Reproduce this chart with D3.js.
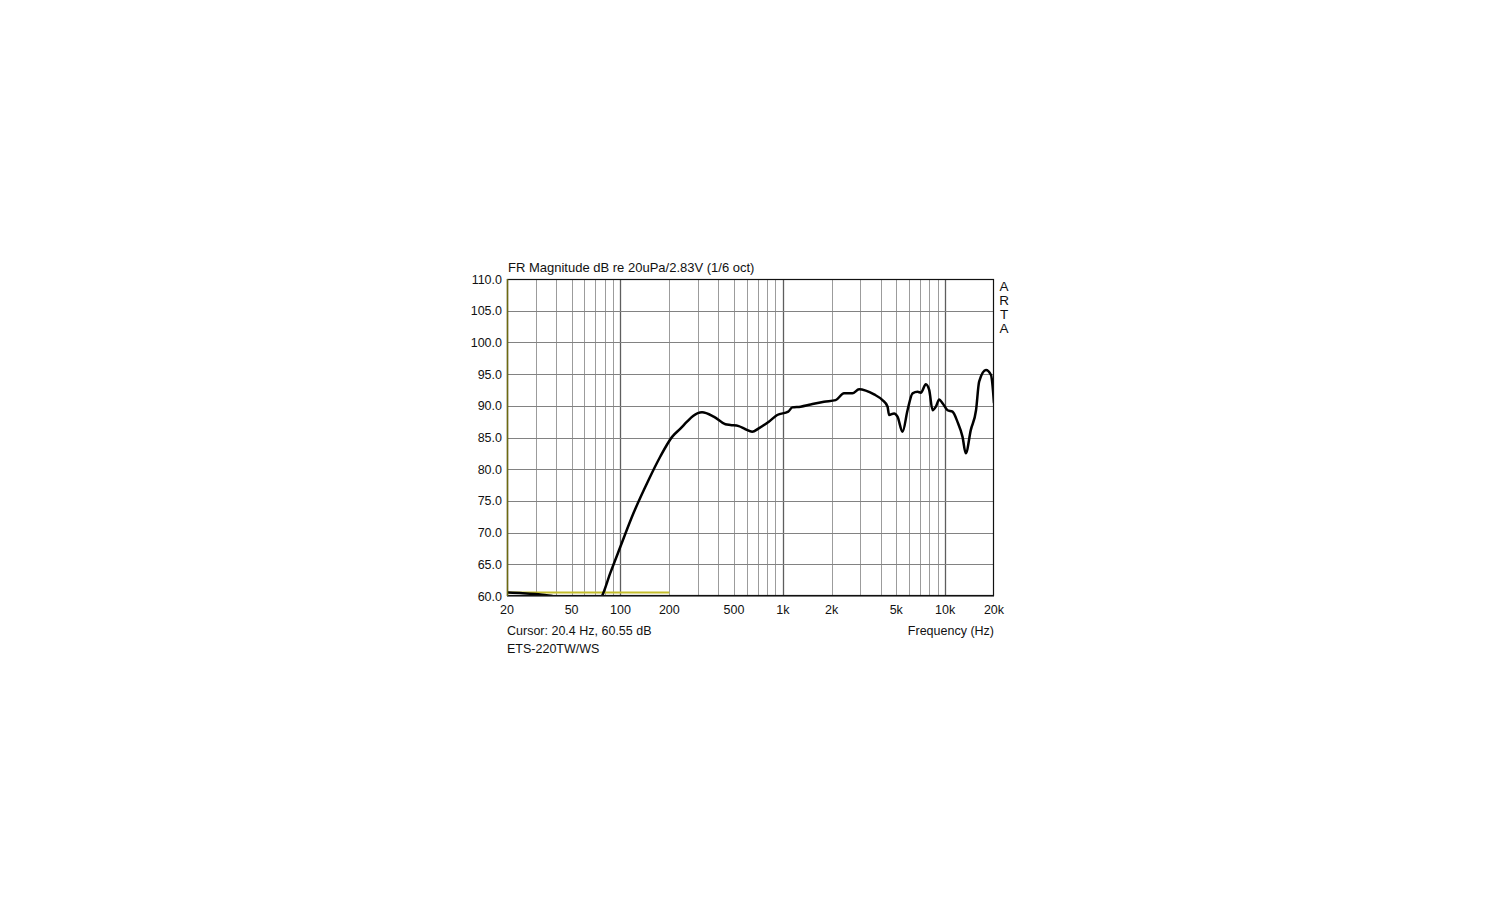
<!DOCTYPE html>
<html>
<head>
<meta charset="utf-8">
<script src="https://cdn.jsdelivr.net/npm/d3@7"></script>
<style>
  body { margin: 0; background: #fff; }
  svg text { font-family: "Liberation Sans", Arial, sans-serif; fill: #111; }
</style>
</head>
<body>
<div class="canvas"></div>
<script>
// chart data
const freqs = [20, 25, 30, 35, 38, 42, 70, 77, 86.5, 100, 120, 149, 176, 208, 234, 257, 280, 318, 375,
  443, 476, 535, 589, 648, 711, 820, 924, 1080, 1144, 1287, 1484, 1793, 2117, 2382, 2685, 2949, 3244,
  3650, 4111, 4416, 4516, 4848, 5088, 5464, 5867, 6300, 6765, 7088, 7607, 7975, 8369, 8770, 9189,
  9640, 10350, 11100, 11900, 12800, 13400, 14400, 15500, 16200, 17850, 19170, 20000];
const levels = [60.55, 60.45, 60.3, 60.1, 60.0, 59.0, 58.6, 60.0, 63.6, 67.8, 73.0, 78.3, 82.0, 85.1, 86.4, 87.5, 88.4, 88.97, 88.3,
  87.1, 86.97, 86.8, 86.3, 85.9, 86.45, 87.5, 88.55, 89.07, 89.75, 89.86, 90.2, 90.65, 90.9, 91.97, 91.97, 92.6, 92.4,
  91.8, 90.9, 89.9, 88.55, 88.8, 88.3, 85.9, 89.3, 91.97, 92.2, 92.07, 93.4, 92.5, 89.3, 89.86, 91.0,
  90.4, 89.3, 89.07, 87.5, 85.1, 82.5, 86.2, 89.3, 93.8, 95.65, 94.86, 90.4];

const yTicks = [60, 65, 70, 75, 80, 85, 90, 95, 100, 105, 110];
const xTickLabels = [[20, '20'], [50, '50'], [100, '100'], [200, '200'], [500, '500'],
  [1000, '1k'], [2000, '2k'], [5000, '5k'], [10000, '10k'], [20000, '20k']];
const xGrid = [30, 40, 50, 60, 70, 80, 90, 100, 200, 300, 400, 500, 600, 700, 800, 900,
  1000, 2000, 3000, 4000, 5000, 6000, 7000, 8000, 9000, 10000];
const decades = [100, 1000, 10000];

// cursor readout
const cursorFreq = 20.4;
const cursorLevel = 60.55;
const cursorEnd = 200;

// plot box
const box = { left: 507, top: 279, right: 994, bottom: 596 };

const svg = d3.select('.canvas')
  .append('svg')
  .attr('width', 1500)
  .attr('height', 900);

const x = d3.scaleLog()
  .domain([20, 20000])
  .range([box.left, box.right]);

const y = d3.scaleLinear()
  .domain([60, 110])
  .range([box.bottom, box.top]);

// grid
svg.append('g')
  .selectAll('line')
  .data(xGrid)
  .enter()
  .append('line')
  .attr('x1', d => Math.round(x(d)) + 0.5)
  .attr('x2', d => Math.round(x(d)) + 0.5)
  .attr('y1', box.top)
  .attr('y2', box.bottom)
  .attr('stroke', d => decades.includes(d) ? '#5e5e5e' : '#9c9c9c')
  .attr('stroke-width', d => decades.includes(d) ? 1.3 : 1);

svg.append('g')
  .selectAll('line')
  .data(yTicks)
  .enter()
  .append('line')
  .attr('x1', box.left)
  .attr('x2', box.right)
  .attr('y1', d => Math.round(y(d)) + 0.5)
  .attr('y2', d => Math.round(y(d)) + 0.5)
  .attr('stroke', '#828282')
  .attr('stroke-width', 1);

// clip for the curve
svg.append('clipPath')
  .attr('id', 'plotclip')
  .append('rect')
  .attr('x', box.left)
  .attr('y', box.top)
  .attr('width', box.right - box.left)
  .attr('height', box.bottom - box.top);

// cursor lines
svg.append('line')
  .attr('x1', x(cursorFreq))
  .attr('x2', x(cursorEnd))
  .attr('y1', y(cursorLevel))
  .attr('y2', y(cursorLevel))
  .attr('stroke', '#c4bd2c')
  .attr('stroke-width', 2);

// response curve
const line = d3.line()
  .x((d, i) => x(freqs[i]))
  .y(d => y(d))
  .curve(d3.curveMonotoneX);

svg.append('path')
  .datum(levels)
  .attr('clip-path', 'url(#plotclip)')
  .attr('fill', 'none')
  .attr('stroke', '#000')
  .attr('stroke-width', 2.5)
  .attr('stroke-linejoin', 'round')
  .attr('d', line);

// frame
svg.append('rect')
  .attr('x', box.left + 0.5)
  .attr('y', box.top + 0.5)
  .attr('width', box.right - box.left - 1)
  .attr('height', box.bottom - box.top - 1)
  .attr('fill', 'none')
  .attr('stroke', '#111')
  .attr('stroke-width', 1.2);

svg.append('line')
  .attr('x1', box.left + 0.5)
  .attr('x2', box.left + 0.5)
  .attr('y1', box.top)
  .attr('y2', box.bottom)
  .attr('stroke', '#6d6a10')
  .attr('stroke-width', 1.5);

// y labels
svg.append('g')
  .selectAll('text')
  .data(yTicks)
  .enter()
  .append('text')
  .attr('x', box.left - 5)
  .attr('y', d => y(d) + 4.5)
  .attr('text-anchor', 'end')
  .attr('font-size', 12.5)
  .text(d => d.toFixed(1));

// x labels
svg.append('g')
  .selectAll('text')
  .data(xTickLabels)
  .enter()
  .append('text')
  .attr('x', d => x(d[0]))
  .attr('y', box.bottom + 18)
  .attr('text-anchor', 'middle')
  .attr('font-size', 12.5)
  .text(d => d[1]);

// titles and notes
svg.append('text')
  .attr('x', box.left + 1)
  .attr('y', box.top - 7)
  .attr('font-size', 13)
  .text('FR Magnitude dB re 20uPa/2.83V (1/6 oct)');

svg.append('text')
  .attr('x', box.left)
  .attr('y', box.bottom + 39)
  .attr('font-size', 12.5)
  .text(`Cursor: ${cursorFreq} Hz, ${cursorLevel} dB`);

svg.append('text')
  .attr('x', box.left)
  .attr('y', box.bottom + 57)
  .attr('font-size', 12.5)
  .text('ETS-220TW/WS');

svg.append('text')
  .attr('x', box.right)
  .attr('y', box.bottom + 39)
  .attr('text-anchor', 'end')
  .attr('font-size', 12.5)
  .text('Frequency (Hz)');

svg.append('g')
  .selectAll('text')
  .data(['A', 'R', 'T', 'A'])
  .enter()
  .append('text')
  .attr('x', box.right + 10)
  .attr('y', (d, i) => box.top + 12 + i * 14)
  .attr('text-anchor', 'middle')
  .attr('font-size', 13.5)
  .text(d => d);
</script>
</body>
</html>
